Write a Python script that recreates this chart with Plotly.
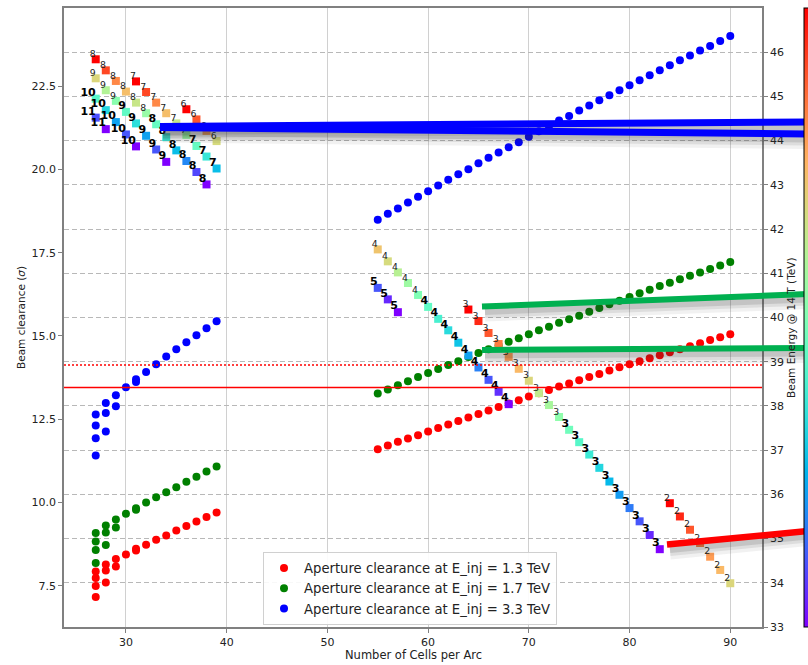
import math
import plotly.graph_objects as go

# ---------------------------------------------------------------------------
# Aperture clearance (sigma) versus number of cells per arc
# ---------------------------------------------------------------------------
cells_short = [27, 27, 27, 27, 28, 28, 28, 29, 29, 30, 31, 31, 32, 33, 34, 35, 36, 37, 38, 39]
cells_long = list(range(55, 91))

clear_13_short = [7.93, 7.73, 7.49, 7.16, 8.14, 7.96, 7.60, 8.30, 8.08, 8.44, 8.56, 8.61,
                  8.73, 8.88, 9.01, 9.16, 9.29, 9.43, 9.56, 9.70]
clear_13_long = [11.60, 11.71, 11.82, 11.92, 12.02, 12.13, 12.24, 12.34, 12.45, 12.55,
                 12.66, 12.76, 12.87, 12.97, 13.07, 13.18, 13.28, 13.38, 13.48, 13.57,
                 13.67, 13.77, 13.86, 13.96, 14.06, 14.15, 14.24, 14.33, 14.42, 14.51,
                 14.60, 14.69, 14.78, 14.88, 14.96, 15.05]

clear_17_short = [9.08, 8.83, 8.57, 8.18, 9.31, 9.10, 8.72, 9.49, 9.25, 9.66, 9.78, 9.83,
                  10.00, 10.16, 10.31, 10.46, 10.62, 10.77, 10.93, 11.08]
clear_17_long = [13.27, 13.39, 13.52, 13.64, 13.77, 13.89, 14.01, 14.13, 14.24, 14.37,
                 14.49, 14.60, 14.72, 14.83, 14.93, 15.05, 15.17, 15.28, 15.40, 15.50,
                 15.61, 15.73, 15.84, 15.95, 16.06, 16.17, 16.28, 16.39, 16.50, 16.60,
                 16.70, 16.81, 16.91, 17.01, 17.12, 17.22]

clear_33_short = [11.41, 11.93, 12.31, 12.64, 12.13, 12.69, 12.99, 12.89, 13.22, 13.46,
                  13.62, 13.70, 13.92, 14.15, 14.38, 14.60, 14.81, 15.02, 15.23, 15.44]
clear_33_long = [18.49, 18.67, 18.83, 19.01, 19.18, 19.35, 19.52, 19.69, 19.86, 20.01,
                 20.19, 20.35, 20.51, 20.67, 20.82, 20.98, 21.15, 21.30, 21.47, 21.61,
                 21.77, 21.92, 22.08, 22.23, 22.38, 22.53, 22.68, 22.83, 22.98, 23.13,
                 23.28, 23.42, 23.57, 23.71, 23.86, 24.01]

# Reference clearance levels
clear_required = 13.45
clear_required_margin = 14.13

# ---------------------------------------------------------------------------
# Beam energy @ 14 T per configuration (label = dipoles count), with colour shade
# ---------------------------------------------------------------------------
k2_cells = list(range(84, 91))
k2_energy = [35.80, 35.50, 35.20, 34.90, 34.59, 34.29, 33.99]
k2_shade = [1.0, 0.95, 0.89, 0.84, 0.79, 0.74, 0.68]

k3_cells = list(range(64, 84))
k3_energy = [40.18, 39.92, 39.65, 39.40, 39.11, 38.84, 38.57, 38.29, 38.02, 37.75,
             37.46, 37.18, 36.90, 36.60, 36.29, 35.99, 35.69, 35.39, 35.08, 34.76]
k3_shade = [1.0, 0.95, 0.89, 0.84, 0.79, 0.74, 0.68, 0.63, 0.58, 0.53,
            0.47, 0.42, 0.37, 0.32, 0.26, 0.21, 0.16, 0.11, 0.05, 0.0]

k4_cells = list(range(55, 69))
k4_energy = [41.54, 41.27, 41.02, 40.78, 40.51, 40.24, 39.97, 39.71, 39.43, 39.14,
             38.87, 38.59, 38.32, 38.04]
k4_shade = [0.72, 0.67, 0.61, 0.56, 0.50, 0.44, 0.39, 0.33, 0.28, 0.22, 0.17, 0.11, 0.06, 0.0]

k5_cells = [55, 56, 57]
k5_energy = [40.67, 40.41, 40.12]
k5_shade = [0.11, 0.05, 0.0]

k6_cells = [36, 37, 38, 39]
k6_energy = [44.71, 44.48, 44.22, 43.99]
k6_shade = [1.0, 0.89, 0.78, 0.67]

k7_cells = list(range(31, 40))
k7_energy = [45.34, 45.10, 44.86, 44.62, 44.39, 44.13, 43.88, 43.64, 43.37]
k7_shade = [1.0, 0.91, 0.82, 0.73, 0.64, 0.55, 0.45, 0.36, 0.27]

k8_cells = list(range(27, 39))
k8_energy = [45.84, 45.59, 45.35, 45.11, 44.86, 44.62, 44.37, 44.08, 43.78, 43.54, 43.29, 43.01]
k8_shade = [1.0, 0.91, 0.82, 0.73, 0.64, 0.55, 0.45, 0.36, 0.27, 0.18, 0.09, 0.0]

k9_cells = list(range(27, 35))
k9_energy = [45.41, 45.14, 44.90, 44.65, 44.39, 44.11, 43.80, 43.52]
k9_shade = [0.68, 0.60, 0.52, 0.44, 0.34, 0.22, 0.11, 0.0]

k10_cells = [27, 28, 29, 30, 31]
k10_energy = [44.95, 44.69, 44.42, 44.14, 43.87]
k10_shade = [0.42, 0.32, 0.22, 0.11, 0.0]

k11_cells = [27, 28]
k11_energy = [44.52, 44.26]
k11_shade = [0.10, 0.0]

groups = [
    (2, k2_cells, k2_energy, k2_shade),
    (3, k3_cells, k3_energy, k3_shade),
    (4, k4_cells, k4_energy, k4_shade),
    (5, k5_cells, k5_energy, k5_shade),
    (6, k6_cells, k6_energy, k6_shade),
    (7, k7_cells, k7_energy, k7_shade),
    (8, k8_cells, k8_energy, k8_shade),
    (9, k9_cells, k9_energy, k9_shade),
    (10, k10_cells, k10_energy, k10_shade),
    (11, k11_cells, k11_energy, k11_shade),
]


# matplotlib-like "rainbow" colour map
def rainbow(t):
    r = min(1.0, abs(2 * t - 0.5))
    g = min(1.0, math.sin(math.pi * t))
    b = min(1.0, math.cos(math.pi * t / 2))
    return "rgb(%d,%d,%d)" % (round(r * 255), round(g * 255), round(b * 255))


rainbow_scale = [[i / 20, rainbow(i / 20)] for i in range(21)]

FONT = "DejaVu Sans"
fig = go.Figure()

# clearance scatter (left axis)
for cells_a, vals_a, cells_b, vals_b, colour, name in [
    (cells_short, clear_13_short, cells_long, clear_13_long, "#ff0000",
     "Aperture clearance at E_inj = 1.3 TeV"),
    (cells_short, clear_17_short, cells_long, clear_17_long, "#008000",
     "Aperture clearance at E_inj = 1.7 TeV"),
    (cells_short, clear_33_short, cells_long, clear_33_long, "#0000ff",
     "Aperture clearance at E_inj = 3.3 TeV"),
]:
    fig.add_trace(go.Scatter(
        x=cells_a + cells_b, y=vals_a + vals_b, mode="markers", name=name,
        marker=dict(symbol="circle", size=8, color=colour, line=dict(width=0)),
        yaxis="y", cliponaxis=False,
    ))

# energy squares (right axis), coloured by shade
sq_x, sq_y, sq_c = [], [], []
lab_small = ([], [], [])
lab_bold = ([], [], [])
for k, cells, energy, shade in groups:
    for n, e, s in zip(cells, energy, shade):
        sq_x.append(n)
        sq_y.append(e)
        sq_c.append(s)
        target = lab_bold if s < 0.5 else lab_small
        target[0].append(n)
        target[1].append(e)
        target[2].append(str(k))

fig.add_trace(go.Scatter(
    x=sq_x, y=sq_y, mode="markers", yaxis="y2", showlegend=False,
    marker=dict(symbol="square", size=8, color=sq_c, coloraxis="coloraxis",
                line=dict(width=0)),
))
fig.add_trace(go.Scatter(
    x=lab_small[0], y=lab_small[1], text=lab_small[2], mode="text", yaxis="y2",
    showlegend=False, textposition="top left",
    textfont=dict(family=FONT, size=9.3, color="#222222"),
))
fig.add_trace(go.Scatter(
    x=lab_bold[0], y=lab_bold[1], text=["<b>%s</b>" % t for t in lab_bold[2]],
    mode="text", yaxis="y2", showlegend=False, textposition="top left",
    textfont=dict(family=FONT, size=11, color="#000000"),
))

# ---------------------------------------------------------------------------
# Layout geometry (pixels) and helpers for paper coordinates
# ---------------------------------------------------------------------------
W, H = 808, 665
L, R, T, B = 64, 762, 8, 627


def pxx(x):
    return (x - L) / (R - L)


def pxy(y):
    return (B - y) / (B - T)


shapes = [
    dict(type="line", xref="paper", yref="y", x0=0, x1=1, y0=clear_required, y1=clear_required,
         line=dict(color="#ff0000", width=1.5), layer="above"),
    dict(type="line", xref="paper", yref="y", x0=0, x1=1, y0=clear_required_margin,
         y1=clear_required_margin, line=dict(color="#ff0000", width=1.5, dash="2px,2px"),
         layer="above"),
]

# highlight strokes with a soft drop shadow
strokes = [
    ("#0000ff", (160, 126.5), (808, 122.0), 7),
    ("#0000ff", (160, 127.5), (808, 134.0), 7),
    ("#00b050", (482, 306.5), (808, 294.0), 6),
    ("#00b050", (482, 350.0), (808, 348.0), 6),
    ("#ff0000", (667, 544.5), (808, 531.0), 6.5),
]
for colour, (xa, ya), (xb, yb), wd in strokes:
    for off, sw, alpha in [(7, 16, 0.07), (6, 11, 0.10), (5, 7, 0.14)]:
        shapes.append(dict(type="line", xref="paper", yref="paper",
                           x0=pxx(xa + 3), y0=pxy(ya + off), x1=pxx(xb), y1=pxy(yb + off),
                           line=dict(color="rgba(50,50,50,%.2f)" % alpha, width=sw),
                           layer="above"))
    shapes.append(dict(type="line", xref="paper", yref="paper",
                       x0=pxx(xa), y0=pxy(ya), x1=pxx(xb), y1=pxy(yb),
                       line=dict(color=colour, width=wd), layer="above"))

axis_common = dict(
    showline=True, linecolor="#808080", linewidth=1.5, ticks="outside", ticklen=4,
    tickcolor="#808080", zeroline=False,
    tickfont=dict(family=FONT, size=11, color="#222222"),
)

fig.update_layout(
    width=W, height=H,
    margin=dict(l=L, r=W - R, t=T, b=H - B, autoexpand=False),
    paper_bgcolor="white", plot_bgcolor="white",
    font=dict(family=FONT, color="#222222"),
    xaxis=dict(range=[23.85, 93.15], tickvals=[30, 40, 50, 60, 70, 80, 90],
               showgrid=True, gridcolor="#d0d0d0", gridwidth=1, mirror=True,
               **axis_common),
    yaxis=dict(range=[6.26, 24.85], tickvals=[7.5, 10.0, 12.5, 15.0, 17.5, 20.0, 22.5],
               tickformat=".1f", showgrid=False, mirror=True, **axis_common),
    yaxis2=dict(range=[33, 47.0], tickvals=list(range(33, 47)), overlaying="y", side="right",
                showgrid=True, gridcolor="#b8b8b8", gridwidth=1, griddash="5px,3px",
                **axis_common),
    coloraxis=dict(
        colorscale=rainbow_scale, cmin=0, cmax=1,
        colorbar=dict(x=pxx(804), xanchor="left", xpad=0, y=0.5, yanchor="middle",
                      len=1, lenmode="fraction", ypad=0, thickness=30,
                      outlinewidth=1, outlinecolor="#000000", showticklabels=False,
                      ticks=""),
    ),
    legend=dict(x=pxx(263), y=pxy(552), xanchor="left", yanchor="top",
                bgcolor="rgba(255,255,255,0.9)", bordercolor="#d0d0d0", borderwidth=1,
                font=dict(family=FONT, size=13.2, color="#222222")),
    shapes=shapes,
    annotations=[
        dict(text="Number of Cells per Arc", xref="paper", yref="paper", x=0.5, y=pxy(655),
             xanchor="center", yanchor="middle", showarrow=False,
             font=dict(family=FONT, size=11.5, color="#222222")),
        dict(text="Beam clearance (<i>σ</i>)", xref="paper", yref="paper", x=pxx(21),
             y=pxy(318), xanchor="center", yanchor="middle", textangle=-90, showarrow=False,
             font=dict(family=FONT, size=10.5, color="#222222")),
        dict(text="Beam Energy @ 14 T (TeV)", xref="paper", yref="paper", x=pxx(791),
             y=pxy(328), xanchor="center", yanchor="middle", textangle=-90, showarrow=False,
             font=dict(family=FONT, size=10.5, color="#222222")),
    ],
)

fig.write_html("out.html")
